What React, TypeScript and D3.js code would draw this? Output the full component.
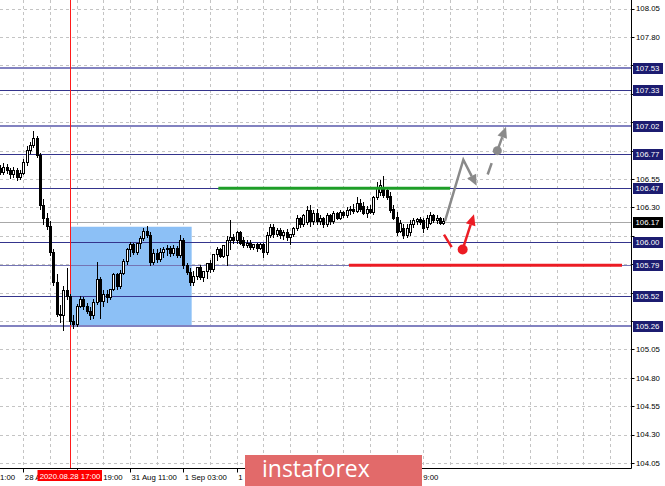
import React from 'react';
import * as d3 from 'd3';

const W = 665;
const H = 486;

// H1 candles (bar index 0 = 27 Aug 20:00)
const opens = [106.65,106.61,106.66,106.63,106.59,106.63,106.57,106.60,106.70,106.81,106.85,106.91,106.76,106.32,106.21,106.14,105.91,105.64,105.36,105.35,105.57,105.52,105.30,105.27,105.43,105.49,105.43,105.39,105.35,105.47,105.67,105.48,105.54,105.51,105.58,105.71,105.61,105.72,105.83,105.93,105.98,105.91,105.99,106.03,106.09,106.06,105.82,105.90,105.85,105.91,105.93,105.94,105.90,105.94,105.88,106.01,105.79,105.73,105.64,105.70,105.78,105.69,105.74,105.81,105.76,105.89,105.93,105.87,105.88,106.01,106.04,106.01,106.08,106.01,105.97,105.99,105.95,105.98,105.94,105.98,105.91,106.06,106.13,106.07,106.10,106.06,106.08,106.04,106.07,106.12,106.21,106.15,106.17,106.28,106.18,106.25,106.18,106.21,106.15,106.23,106.18,106.25,106.21,106.26,106.23,106.28,106.29,106.27,106.34,106.31,106.25,106.29,106.26,106.39,106.44,106.47,106.45,106.40,106.29,106.22,106.09,106.12,106.06,106.08,106.15,106.18,106.20,106.19,106.13,106.16,106.23,106.19,106.21,106.16];
const highs = [106.67,106.69,106.68,106.65,106.66,106.65,106.63,106.73,106.84,106.88,106.97,106.93,106.78,106.37,106.25,106.18,105.93,105.71,105.44,105.61,105.77,105.54,105.35,105.45,105.52,105.51,105.46,105.42,105.49,105.82,105.69,105.57,105.57,105.58,105.72,105.72,105.75,105.85,105.94,106.00,105.99,105.99,106.05,106.12,106.14,106.08,105.93,105.93,105.94,105.95,105.97,105.96,105.97,105.96,106.06,106.03,105.81,105.77,105.74,105.78,105.79,105.74,105.81,105.84,105.89,105.95,105.94,105.97,106.05,106.19,106.07,106.09,106.09,106.04,106.01,106.01,105.98,105.99,105.99,105.99,106.08,106.15,106.15,106.12,106.12,106.10,106.11,106.07,106.13,106.23,106.22,106.24,106.31,106.32,106.28,106.29,106.23,106.22,106.25,106.24,106.27,106.26,106.28,106.27,106.30,106.31,106.33,106.39,106.37,106.35,106.31,106.32,106.40,106.52,106.54,106.58,106.48,106.44,106.32,106.26,106.19,106.15,106.15,106.19,106.21,106.21,106.22,106.21,106.23,106.26,106.24,106.23,106.22,106.21];
const lows = [106.59,106.59,106.60,106.56,106.57,106.54,106.55,106.59,106.67,106.78,106.83,106.74,106.29,106.15,106.11,105.88,105.62,105.34,105.29,105.22,105.49,105.27,105.24,105.26,105.42,105.41,105.37,105.32,105.33,105.45,105.33,105.43,105.47,105.49,105.57,105.58,105.59,105.71,105.80,105.87,105.89,105.89,105.94,106.01,106.04,105.79,105.80,105.82,105.83,105.86,105.88,105.87,105.88,105.86,105.86,105.77,105.71,105.62,105.62,105.67,105.67,105.65,105.68,105.73,105.74,105.84,105.86,105.86,105.79,105.93,105.99,105.99,105.98,105.95,105.95,105.93,105.93,105.92,105.93,105.86,105.89,106.04,106.04,106.05,106.03,106.02,106.01,105.98,106.05,106.10,106.13,106.14,106.15,106.14,106.15,106.15,106.15,106.13,106.14,106.15,106.16,106.20,106.20,106.22,106.22,106.24,106.25,106.26,106.27,106.24,106.22,106.25,106.24,106.37,106.41,106.39,106.37,106.26,106.20,106.06,106.08,106.03,106.04,106.06,106.13,106.15,106.15,106.08,106.11,106.15,106.17,106.16,106.15,106.15];
const closes = [106.61,106.66,106.63,106.59,106.63,106.57,106.60,106.70,106.81,106.85,106.91,106.76,106.32,106.21,106.14,105.91,105.64,105.36,105.35,105.57,105.52,105.30,105.27,105.43,105.49,105.43,105.39,105.35,105.47,105.67,105.48,105.54,105.51,105.58,105.71,105.61,105.72,105.83,105.93,105.98,105.91,105.99,106.03,106.09,106.06,105.82,105.90,105.85,105.91,105.93,105.94,105.90,105.94,105.88,106.01,105.79,105.73,105.64,105.70,105.78,105.69,105.74,105.81,105.76,105.89,105.93,105.87,105.97,106.01,106.04,106.01,106.08,105.99,105.97,105.99,105.95,105.98,105.94,105.98,105.91,106.06,106.13,106.07,106.10,106.06,106.08,106.04,106.07,106.12,106.21,106.15,106.23,106.28,106.18,106.25,106.18,106.21,106.15,106.23,106.18,106.25,106.21,106.26,106.23,106.28,106.29,106.27,106.34,106.29,106.25,106.29,106.26,106.39,106.48,106.50,106.41,106.39,106.28,106.21,106.08,106.16,106.06,106.12,106.15,106.19,106.20,106.17,106.12,106.21,106.23,106.19,106.21,106.16,106.18];

const priceTicks = [108.05,107.80,107.55,107.30,107.05,106.80,106.55,106.30,106.05,105.80,105.55,105.30,105.05,104.80,104.55,104.30,104.05];
const levels = [107.53,107.33,107.02,106.77,106.47,106.00,105.79,105.52,105.26];
const strongLevels = [107.53,107.02,105.26];
const softLevels = [105.79];
const bidPrice = 106.17;

// time-axis labels: bar of the tick, and the part of the label left visible
// (the rest lies under the marker box or the watermark)
const timeTickBars = [-9,7,23,39,55,71,87,103,119];
const timeLabels = ['1:00','28 A','19:00','31 Aug 11:00','1 Sep 03:00','1','','','9:00'];
const timeLabelShift = [-30,1.5,26.5,1.5,1.5,1.5,0,0,26.5];
const markerBar = 21;
const markerLabel = '2020.08.28 17:00';

const zoneBars = [21, 57.5];
const zonePrices = [105.255, 106.13];
const resistance = { bars: [65.5, 135], price: 106.47 };
const support = { bars: [104.7, 186.6], price: 105.79 };

const greyPath = [[133.5,106.18],[139,106.72],[143,106.49]];
const greyDash = [[146.3,106.59],[147.5,106.69]];
const greyDot = [149.2,106.80];
const greyArrowEnd = [151.8,107.01];
const redStroke = [[133.2,106.06],[135.5,105.95]];
const redDot = [138.8,105.93];
const redArrowEnd = [142.2,106.24];

const PLOT_R = 631.5;
const PLOT_B = 468.5;

const x = d3.scaleLinear().domain([0, 189.3]).range([0, 631]);
const y = d3.scaleLinear().domain([104.0, 108.12]).range([468.7, 0.7]);

const FONT = "'Liberation Sans', Arial, sans-serif";

function head(x0: number, y0: number, x1: number, y1: number, len = 11, half = 5) {
  const dx = x1 - x0, dy = y1 - y0;
  const d = Math.hypot(dx, dy);
  const ux = dx / d, uy = dy / d;
  const bx = x1 - ux * len, by = y1 - uy * len;
  return {
    pts: `${x1},${y1} ${bx - uy * half},${by + ux * half} ${bx + uy * half},${by - ux * half}`,
    bx, by,
  };
}

export default function App() {
  const vGrid = d3.range(7, 190, 8).map((b) => x(b)).filter((v) => v < PLOT_R);
  const snap = (v: number) => Math.round(v) + 0.5;
  const boxed = [...levels, bidPrice];
  const visibleTicks = priceTicks.filter((p) => boxed.every((q) => Math.abs(y(p) - y(q)) > 9));

  const gp = greyPath.map(([b, p]) => [x(b), y(p)]);
  const gh = head(gp[1][0], gp[1][1], gp[2][0], gp[2][1]);
  const gLine = [...gp.slice(0, 2), [gh.bx, gh.by]];
  const gd = [x(greyDot[0]), y(greyDot[1])];
  const ge = [x(greyArrowEnd[0]), y(greyArrowEnd[1])];
  const gh2 = head(gd[0], gd[1], ge[0], ge[1]);
  const rd = [x(redDot[0]), y(redDot[1])];
  const re = [x(redArrowEnd[0]), y(redArrowEnd[1])];
  const rh = head(rd[0], rd[1], re[0], re[1]);
  const line = d3.line();

  return (
    <svg width={W} height={H} style={{ position: 'absolute', left: 0, top: 0, background: '#fff' }} fontFamily={FONT}>
      <rect x={0} y={0} width={W} height={H} fill="#fff" />
      {/* grid */}
      {priceTicks.map((p) => (
        <line key={'hg' + p} x1={0} x2={PLOT_R} y1={snap(y(p))} y2={snap(y(p))} stroke="#c4c4c4" strokeDasharray="3,3" />
      ))}
      {vGrid.map((v, i) => (
        <line key={'vg' + i} x1={snap(v)} x2={snap(v)} y1={0} y2={PLOT_B} stroke="#c4c4c4" strokeDasharray="3,3" />
      ))}
      {/* zone */}
      <rect x={x(zoneBars[0])} y={y(zonePrices[1])} width={x(zoneBars[1]) - x(zoneBars[0])} height={y(zonePrices[0]) - y(zonePrices[1])} fill="#8cc0f6" />
      {/* bid line */}
      <line x1={0} x2={PLOT_R} y1={snap(y(bidPrice))} y2={snap(y(bidPrice))} stroke="#a8a8a8" />
      {/* levels */}
      {levels.map((p) => {
        const strong = strongLevels.includes(p);
        const soft = softLevels.includes(p);
        return (
          <line key={'lv' + p} x1={0} x2={PLOT_R} y1={strong ? Math.round(y(p)) : snap(y(p))} y2={strong ? Math.round(y(p)) : snap(y(p))}
            stroke={strong ? '#8282c0' : soft ? '#7474b4' : '#34348c'} strokeWidth={strong ? 2 : 1} />
        );
      })}
      {/* marker vertical */}
      <line x1={snap(x(markerBar))} x2={snap(x(markerBar))} y1={0} y2={PLOT_B} stroke="#ff1a1a" />
      {/* candles */}
      {opens.map((o, i) => {
        const c = closes[i];
        const cx = snap(x(i));
        const top = Math.round(y(Math.max(o, c))) + 0.5;
        const bot = Math.round(y(Math.min(o, c))) + 0.5;
        const bull = c > o;
        return (
          <g key={'c' + i}>
            <line x1={cx} x2={cx} y1={Math.round(y(highs[i]))} y2={Math.round(y(lows[i])) + 1} stroke="#000" />
            {bot - top < 1 ? (
              <line x1={cx - 1.5} x2={cx + 1.5} y1={top} y2={top} stroke="#000" />
            ) : (
              <rect x={cx - 1} y={top} width={2} height={bot - top} fill={bull ? '#fff' : '#000'} stroke="#000" />
            )}
          </g>
        );
      })}
      {/* resistance / support */}
      <line x1={x(resistance.bars[0])} x2={x(resistance.bars[1])} y1={y(resistance.price)} y2={y(resistance.price)} stroke="#1e9e28" strokeWidth={3} />
      <line x1={x(support.bars[0])} x2={Math.min(x(support.bars[1]), PLOT_R - 9)} y1={y(support.price)} y2={y(support.price)} stroke="#ec1c24" strokeWidth={3} />
      {/* grey forecast */}
      <path d={line(gLine as [number, number][]) || ''} fill="none" stroke="#8a8a8a" strokeWidth={2.5} strokeLinejoin="miter" />
      <polygon points={gh.pts} fill="#8a8a8a" />
      <path d={line(greyDash.map(([b, p]) => [x(b), y(p)]) as [number, number][]) || ''} stroke="#8a8a8a" strokeWidth={2.5} />
      <circle cx={gd[0]} cy={gd[1]} r={4.5} fill="#8a8a8a" />
      <line x1={gd[0]} y1={gd[1]} x2={gh2.bx} y2={gh2.by} stroke="#8a8a8a" strokeWidth={2.5} />
      <polygon points={gh2.pts} fill="#8a8a8a" />
      {/* red forecast */}
      <path d={line(redStroke.map(([b, p]) => [x(b), y(p)]) as [number, number][]) || ''} stroke="#ec1c24" strokeWidth={2.5} />
      <circle cx={rd[0]} cy={rd[1]} r={5} fill="#ec1c24" />
      <line x1={rd[0]} y1={rd[1]} x2={rh.bx} y2={rh.by} stroke="#ec1c24" strokeWidth={2.5} />
      <polygon points={rh.pts} fill="#ec1c24" />
      {/* axes border */}
      <line x1={PLOT_R} x2={PLOT_R} y1={0} y2={PLOT_B} stroke="#000" />
      <line x1={0} x2={PLOT_R} y1={PLOT_B} y2={PLOT_B} stroke="#000" />
      {/* right axis ticks */}
      {priceTicks.map((p) => (
        <line key={'ptk' + p} x1={PLOT_R} x2={PLOT_R + 3} y1={snap(y(p))} y2={snap(y(p))} stroke="#000" />
      ))}
      {visibleTicks.map((p) => (
        <text key={'pt' + p} x={636} y={y(p)} dy="0.35em" fontSize={7.8} fill="#000">{p.toFixed(2)}</text>
      ))}
      {/* level label boxes */}
      {boxed.map((p) => (
        <g key={'lb' + p}>
          <rect x={633} y={Math.round(y(p)) - 5} width={30} height={11} fill={p === bidPrice ? '#000' : '#1c1c70'} />
          <text x={635.5} y={Math.round(y(p)) + 0.5} dy="0.35em" fontSize={7.8} fill="#fff">{p.toFixed(2)}</text>
        </g>
      ))}
      {/* time axis */}
      {timeTickBars.map((b, i) => (
        <g key={'tl' + i}>
          <line x1={snap(x(b))} x2={snap(x(b))} y1={PLOT_B} y2={PLOT_B + 4} stroke="#000" />
          {timeLabels[i] && (
            <text x={Math.max(0, x(b) + timeLabelShift[i])} y={479.5} fontSize={7.8} fill="#000">{timeLabels[i]}</text>
          )}
        </g>
      ))}
      <rect x={x(markerBar) - 32.5} y={470} width={64.5} height={11} fill="#ff0000" />
      <text x={x(markerBar)} y={479} textAnchor="middle" fontSize={7.8} fill="#fff">{markerLabel}</text>
      {/* watermark */}
      <rect x={245} y={455} width={177} height={34} fill="#e26a6a" />
      <text x={262} y={477} fontSize={23} fill="#fff" fontFamily="'Open Sans', sans-serif">instaforex</text>
    </svg>
  );
}
